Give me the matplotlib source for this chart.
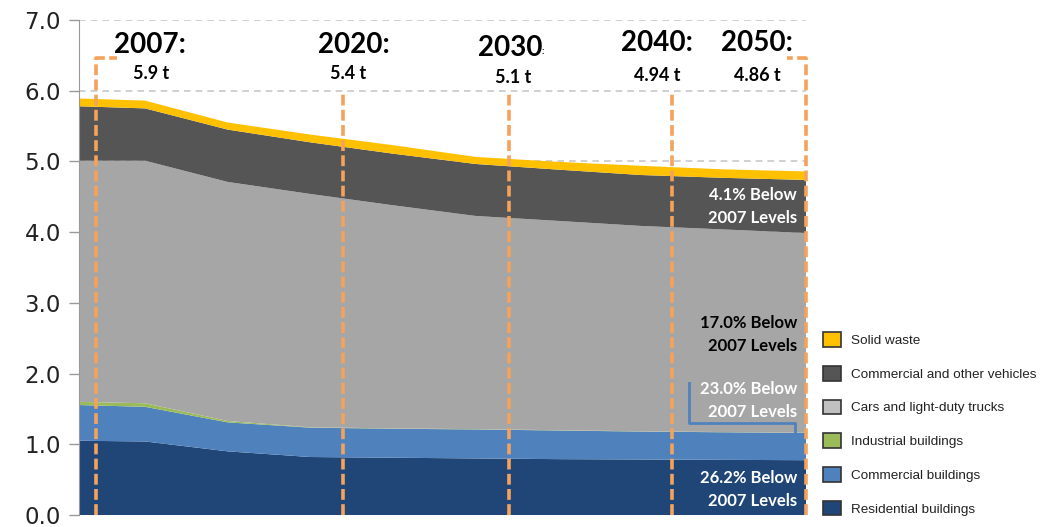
import matplotlib.pyplot as plt
from matplotlib.patches import Patch

# per-capita emissions by sector (t), stacked bottom to top
years = [2006, 2010, 2015, 2020, 2025, 2030, 2035, 2040, 2045, 2050]
residential = [1.05, 1.04, 0.90, 0.82, 0.81, 0.80, 0.79, 0.785, 0.78, 0.775]
commercial = [0.505, 0.49, 0.41, 0.415, 0.41, 0.41, 0.405, 0.395, 0.39, 0.385]
industrial = [0.045, 0.05, 0.02, 0.005, 0.005, 0.004, 0.004, 0.003, 0.003, 0.003]
cars = [3.41, 3.43, 3.38, 3.30, 3.155, 3.015, 2.96, 2.905, 2.865, 2.825]
vehicles = [0.77, 0.74, 0.74, 0.73, 0.73, 0.735, 0.725, 0.72, 0.73, 0.75]
solid_waste = [0.11, 0.11, 0.10, 0.11, 0.12, 0.10, 0.11, 0.13, 0.12, 0.12]

sector_names = ["Residential buildings", "Commercial buildings", "Industrial buildings",
                "Cars and light-duty trucks", "Commercial and other vehicles", "Solid waste"]
area_colors = ["#1f4677", "#4f81bd", "#9bbb59", "#a6a6a6", "#555555", "#ffc000"]
legend_colors = ["#1f4677", "#4f81bd", "#9bbb59", "#c0c0c0", "#555555", "#ffc000"]

# milestone callouts
milestone_years = ["2007:", "2020:", "2030", "2040:", "2050:"]
milestone_totals = ["5.9 t", "5.4 t", "5.1 t", "4.94 t", "4.86 t"]
reductions = ["4.1% Below\n2007 Levels", "17.0% Below\n2007 Levels",
              "23.0% Below\n2007 Levels", "26.2% Below\n2007 Levels"]

ORANGE = "#f5a35c"
BOLD = dict(family=["Lato", "DejaVu Sans"], fontweight="bold")

fig = plt.figure(figsize=(10.43, 5.27), dpi=100)
ax = fig.add_axes([79 / 1043, 12 / 527, 727 / 1043, 495 / 527])

ax.stackplot(years, residential, commercial, industrial, cars, vehicles, solid_waste,
             colors=area_colors, linewidth=0, zorder=2)

ax.set_xlim(2006, 2050)
ax.set_ylim(0, 7)
ax.set_yticks(range(8))
ax.set_yticklabels([f"{v:.1f}" for v in range(8)], fontsize=16.5, color="#222222")
ax.set_xticks([])
ax.tick_params(axis="y", length=7, width=1, color="#999999", pad=6)
ax.yaxis.grid(True, linestyle=(0, (4, 3)), color="#c8c8c8", linewidth=1.2, zorder=0)
ax.set_axisbelow(True)
for side in ("top", "right", "bottom"):
    ax.spines[side].set_visible(False)
ax.spines["left"].set_color("#999999")

# orange milestone markers
dash = dict(color=ORANGE, linewidth=2.6, linestyle=(0, (3, 1.2)), clip_on=False, zorder=4)
ax.plot([2007, 2007, 2008.3], [0, 6.46, 6.46], **dash)
ax.plot([2050, 2050, 2048.85], [0, 6.46, 6.46], **dash)
for x in (2022, 2032, 2041.9):
    ax.plot([x, x], [0, 6.0], **dash)

year_x = [2010.3, 2022.65, 2032.1, 2041.0, 2047.05]
total_x = [2010.35, 2022.3, 2032.3, 2041.0, 2047.05]
year_y = [6.65, 6.65, 6.6, 6.68, 6.68]
total_y = [6.24, 6.24, 6.19, 6.22, 6.22]
for lab, tot, xl, xt, yl, yt in zip(milestone_years, milestone_totals, year_x, total_x, year_y, total_y):
    ax.text(xl, yl, lab, ha="center", va="center", fontsize=20, color="black", **BOLD)
    ax.text(xt, yt, tot, ha="center", va="center", fontsize=13, color="black", **BOLD)
ax.text(2034.0, 6.55, ":", ha="left", va="center", fontsize=7, color="black", **BOLD)

# reductions relative to 2007, per sector
red_y = [4.36, 2.55, 1.62, 0.36]
red_colors = ["white", "black", "white", "white"]
for txt, y, c in zip(reductions, red_y, red_colors):
    ax.text(2049.45, y, txt, ha="right", va="center", fontsize=12, color=c,
            linespacing=1.5, zorder=5, **BOLD)
ax.plot([2042.92, 2042.92, 2049.34, 2049.34], [1.87, 1.30, 1.30, 1.17],
        color="#4f81bd", linewidth=2, zorder=5)

handles = [Patch(facecolor=c, edgecolor="#333333", linewidth=1.2, label=n)
           for n, c in zip(sector_names, legend_colors)][::-1]
fig.legend(handles=handles, loc="upper left", bbox_to_anchor=(811 / 1043, 1 - 320 / 527),
           frameon=False, prop=dict(family=["Liberation Sans", "DejaVu Sans"], size=9.7),
           labelcolor="#222222", handlelength=1.3, handleheight=1.3, handletextpad=0.8,
           labelspacing=1.4)

fig.savefig("out.png", dpi=100)
